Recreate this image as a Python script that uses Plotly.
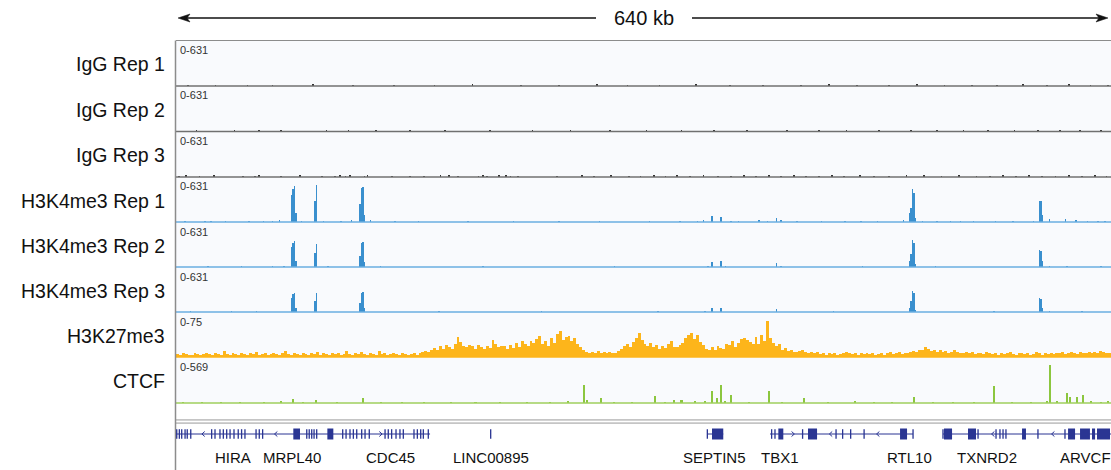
import plotly.graph_objects as go

# ------------------------------------------------------------------ data
REGION_KB = 640
REGION_LABEL = "640 kb"

track_names = ["IgG Rep 1", "IgG Rep 2", "IgG Rep 3",
               "H3K4me3 Rep 1", "H3K4me3 Rep 2", "H3K4me3 Rep 3",
               "H3K27me3", "CTCF"]
track_max = [631, 631, 631, 631, 631, 631, 75, 569]

# IgG (sparse specks, kb / value)
igg1_kb = [8, 27, 49, 66, 94, 121, 149, 177, 203, 236, 262, 288, 309, 331, 356,
           379, 402, 428, 447, 466, 488, 507, 526, 545, 562, 580, 596, 611, 626, 638]
igg1_val = [16, 20, 14, 18, 24, 15, 19, 14, 21, 17, 15, 22, 18, 14, 21,
            17, 15, 19, 24, 17, 14, 21, 15, 19, 17, 22, 15, 21, 17, 19]
igg2_kb = [14, 40, 57, 72, 103, 118, 137, 160, 184, 215, 244, 270, 297, 322, 346,
           368, 391, 418, 440, 459, 481, 503, 521, 539, 556, 574, 590, 605, 619, 633]
igg2_val = [21, 15, 25, 17, 14, 22, 19, 15, 21, 17, 24, 15, 19, 14, 22,
            17, 21, 15, 19, 25, 17, 14, 21, 24, 15, 19, 22, 17, 21, 15]
igg3_kb = [2, 7, 16, 26, 46, 54, 57, 72, 85, 100,
           109, 112, 116, 119, 129, 131, 148, 160, 170, 181,
           187, 193, 207, 210, 213, 221, 226, 229, 234, 261,
           278, 286, 298, 310, 318, 327, 335, 343, 352, 361,
           371, 380, 389, 397, 406, 414, 423, 431, 440, 449,
           457, 468, 478, 488, 500, 512, 524, 536, 548, 557,
           566, 575, 584, 593, 602, 611, 620, 629, 637]
igg3_val = [17, 21, 15, 24, 19, 14, 22, 17, 21, 15,
            19, 24, 17, 21, 15, 22, 14, 19, 17, 21,
            25, 15, 19, 22, 17, 24, 21, 15, 19, 17,
            21, 15, 22, 17, 19, 24, 15, 21, 17, 22,
            19, 15, 24, 17, 21, 14, 22, 19, 15, 21,
            17, 24, 19, 15, 22, 21, 17, 25, 19, 15,
            21, 17, 24, 15, 19, 22, 17, 21, 15]

# H3K4me3 (1 kb bins, kb / value)
k4_rep1_kb = [6, 20, 24, 34, 50, 60, 66, 71, 79, 80,
              81, 82, 86, 95, 96, 101, 113, 120, 126, 127,
              128, 129, 133, 150, 166, 200, 231, 262, 290, 324,
              345, 357, 361, 367, 373, 380, 385, 399, 405, 411,
              414, 425, 442, 458, 469, 480, 498, 502, 503, 504,
              505, 506, 511, 521, 530, 537, 546, 561, 573, 587,
              591, 592, 593, 598, 609, 616, 624, 631, 636]
k4_rep1_val = [15, 12, 10, 14, 18, 20, 12, 25, 380, 460,
               500, 120, 15, 300, 517, 20, 14, 22, 250, 470,
               490, 100, 30, 15, 12, 18, 14, 12, 16, 14,
               18, 15, 28, 85, 70, 18, 14, 25, 16, 63,
               22, 14, 16, 12, 14, 18, 25, 120, 200, 460,
               400, 50, 16, 14, 12, 15, 18, 14, 16, 20,
               300, 300, 100, 48, 40, 25, 15, 14, 16]
k4_rep2_kb = [22, 45, 66, 74, 79, 80, 81, 82, 95, 96,
              104, 126, 127, 128, 129, 140, 210, 300, 364, 367,
              373, 376, 411, 414, 470, 502, 503, 504, 505, 506,
              520, 591, 592, 593, 598, 610, 633]
k4_rep2_val = [10, 14, 12, 15, 280, 340, 365, 80, 200, 320,
               12, 160, 330, 350, 70, 14, 12, 10, 15, 65,
               88, 18, 55, 16, 12, 80, 180, 378, 330, 40,
               14, 240, 230, 80, 20, 12, 14]
k4_rep3_kb = [10, 38, 55, 79, 80, 81, 82, 95, 96, 126,
              127, 128, 129, 180, 250, 330, 362, 367, 373, 411,
              450, 502, 503, 504, 505, 506, 560, 591, 592, 593,
              598, 620]
k4_rep3_val = [12, 10, 14, 200, 250, 265, 60, 160, 265, 120,
               270, 280, 60, 10, 12, 10, 14, 55, 60, 45,
               12, 60, 150, 295, 260, 30, 12, 195, 185, 60,
               18, 10]

# H3K27me3 (2 kb bins from 0 to 640 kb)
K27_BIN_KB = 2
h3k27me3 = [
    5, 4, 6, 5, 3, 4, 6, 5, 4, 5, 7, 5, 4, 6, 5, 4, 10, 5, 4, 6,
    5, 4, 7, 5, 4, 6, 5, 9, 4, 5, 6, 4, 5, 7, 5, 4, 6, 10, 5, 4,
    6, 5, 4, 7, 5, 4, 6, 5, 9, 4, 6, 5, 4, 7, 5, 6, 4, 5, 10, 5,
    4, 6, 5, 9, 5, 4, 6, 5, 4, 10, 5, 6, 4, 5, 7, 5, 4, 6, 5, 4,
    5, 7, 4, 6, 8, 10, 9, 12, 15, 11, 18, 14, 20, 16, 13, 22, 33, 25, 19, 17,
    20, 18, 14, 20, 16, 13, 19, 15, 28, 22, 16, 18, 18, 14, 20, 15, 24, 17, 26, 21,
    18, 27, 23, 30, 35, 22, 26, 19, 31, 24, 38, 44, 29, 33, 35, 26, 31, 22, 17, 12,
    9, 7, 8, 6, 10, 7, 8, 6, 9, 7, 6, 10, 14, 18, 22, 16, 25, 31, 40, 28,
    22, 18, 24, 16, 20, 14, 18, 15, 22, 26, 17, 16, 20, 24, 32, 37, 40, 30, 36, 25,
    20, 14, 11, 16, 12, 18, 15, 14, 22, 20, 26, 17, 24, 30, 32, 28, 25, 22, 33, 21,
    37, 27, 60, 32, 24, 18, 21, 12, 15, 10, 11, 8, 9, 10, 12, 8, 7, 9, 6, 8,
    5, 6, 4, 7, 5, 6, 4, 5, 6, 8, 6, 5, 7, 4, 6, 5, 7, 5, 6, 4,
    5, 7, 4, 6, 8, 5, 6, 9, 5, 7, 6, 8, 10, 9, 12, 11, 16, 13, 10, 12,
    9, 11, 8, 10, 7, 9, 12, 8, 6, 7, 9, 6, 8, 5, 7, 6, 5, 8, 6, 5,
    6, 4, 7, 5, 6, 8, 5, 4, 6, 7, 5, 6, 4, 5, 8, 6, 4, 7, 5, 6,
    5, 7, 6, 8, 5, 6, 9, 7, 5, 8, 6, 7, 9, 6, 8, 7, 10, 8, 6, 7,
]

# CTCF (kb / value)
ctcf_kb = [5, 18, 31, 44, 60, 72, 80, 87, 96, 110,
           128, 140, 155, 170, 188, 205, 222, 240, 256, 268,
           279, 281, 291, 300, 312, 328, 335, 341, 346, 355,
           362, 367, 370, 373, 376, 380, 392, 406, 415, 430,
           446, 465, 478, 490, 505, 518, 532, 546, 560, 572,
           585, 596, 598, 603, 610, 612, 617, 621, 626, 633,
           638]
ctcf_val = [15, 12, 18, 14, 16, 20, 50, 15, 38, 14,
            67, 15, 18, 14, 12, 16, 14, 15, 18, 22,
            219, 40, 63, 18, 14, 88, 16, 38, 38, 20,
            25, 143, 60, 228, 30, 101, 18, 152, 16, 67,
            14, 30, 16, 18, 76, 14, 16, 18, 206, 14,
            18, 30, 472, 25, 123, 76, 80, 101, 20, 18,
            22]

# Gene annotation (kb)
gene_names = ["HIRA", "MRPL40", "CDC45", "LINC00895", "SEPTIN5",
              "TBX1", "RTL10", "TXNRD2", "ARVCF"]
gene_label_kb = [39.0, 79.2, 146.5, 215.4, 368.9, 413.4, 502.4, 555.1, 622.2]
intron_start_kb = [0.0, 363.7, 406.6, 525.0]
intron_end_kb = [173.9, 374.6, 504.5, 640.0]
exon_tick_kb = [0.5, 2.3, 3.9, 6.2, 7.7, 10.1,
                24.4, 26.7, 30.1, 32.4, 34.7, 37.0, 39.7, 42.6, 44.9, 47.2,
                54.8, 57.0, 59.3,
                89.5, 91.2, 92.9, 94.5, 96.3,
                114.1, 116.4, 119.1, 121.4, 123.7, 127.1, 129.4, 132.3,
                143.1, 145.3, 147.6, 150.6, 153.3, 155.6,
                162.9, 165.2, 167.5, 169.3, 172.7,
                215.4, 363.7, 407.7, 410.0, 428.9,
                451.8, 456.3, 461.8, 471.0, 504.5,
                525.0, 549.0, 561.3, 564.0, 566.1, 568.1, 590.0, 608.5]
exon_block_start_kb = [80.3, 103.6, 366.9, 412.3, 432.6, 495.6, 525.7,
                       542.1, 579.1, 610.6, 618.8, 627.0, 630.4]
exon_block_end_kb = [84.9, 107.7, 374.6, 415.7, 438.8, 500.4, 531.2,
                     547.6, 581.8, 615.4, 625.6, 629.1, 639.3]
strand_kb = [18.7, 68.4, 140.1, 422.3, 448.2, 480.5, 559.2, 600.3]
strand_dir = [-1, -1, 1, 1, -1, -1, -1, -1]

# ------------------------------------------------------------------ layout helpers
FONT = "Liberation Sans, Arial, Helvetica, sans-serif"
W, H = 1111, 470
ML, MT = 176, 40
PW, PH = W - ML, H - MT
KB_PER_PX = REGION_KB / PW


def fx(p):
    return (p - ML) / PW


def fy(p):
    return (H - p) / PH


base_px = [86, 131.5, 177, 222, 267, 312, 357, 403]
top_px = [40.5] + base_px[:-1]

k27_x = [K27_BIN_KB * (i + 0.5) for i in range(len(h3k27me3))]
series = [
    (igg1_kb, igg1_val, 1.2),
    (igg2_kb, igg2_val, 1.2),
    (igg3_kb, igg3_val, 1.2),
    (k4_rep1_kb, k4_rep1_val, 1.0),
    (k4_rep2_kb, k4_rep2_val, 1.0),
    (k4_rep3_kb, k4_rep3_val, 1.0),
    (k27_x, h3k27me3, K27_BIN_KB),
    (ctcf_kb, ctcf_val, 1.4),
]
bar_colors = ["#333333"] * 3 + ["#3a8fce"] * 3 + ["#fdb51b", "#8cc63f"]
base_colors = ["#707070"] * 3 + ["#6aaee0"] * 3 + ["#fdb51b", "#9fcf5c"]
GENE_COLOR = "#2a3593"
BORDER = "#8c8c8c"

fig = go.Figure()
layout_axes = {}
shapes = []
annotations = []

for i, (xs, ys, w) in enumerate(series):
    k = i + 1
    yname = "y" if k == 1 else f"y{k}"
    fig.add_trace(go.Bar(
        x=xs, y=ys, width=w, xaxis="x", yaxis=yname,
        marker=dict(color=bar_colors[i], line=dict(width=0)),
        hoverinfo="skip", showlegend=False))
    layout_axes["yaxis" if k == 1 else f"yaxis{k}"] = dict(
        domain=[fy(base_px[i]), fy(top_px[i])], range=[0, track_max[i]],
        visible=False, fixedrange=True, anchor="x")
    # baseline
    shapes.append(dict(type="line", xref="paper", yref="paper",
                       x0=0, x1=1, y0=fy(base_px[i]), y1=fy(base_px[i]),
                       line=dict(color=base_colors[i], width=1.3 if i < 6 else 1.7),
                       layer="above"))
    # scale label
    annotations.append(dict(text=f"0-{track_max[i]}", xref="paper", yref="paper",
                            x=fx(177.5), y=fy(top_px[i] + 1.5), xanchor="left",
                            yanchor="top", showarrow=False,
                            font=dict(family=FONT, size=11, color="#333333")))
    # track name
    annotations.append(dict(text=track_names[i], xref="paper", yref="paper",
                            x=fx(166.5), y=fy((base_px[i] + top_px[i]) / 2 + 1),
                            xanchor="right", yanchor="middle", showarrow=False,
                            font=dict(family=FONT, size=19.5, color="#111111")))

# panel borders
shapes += [
    dict(type="line", xref="paper", yref="paper", x0=0, x1=1, y0=fy(40.5), y1=fy(40.5),
         line=dict(color=BORDER, width=1.2)),
    dict(type="line", xref="paper", yref="paper", x0=0, x1=1, y0=fy(420), y1=fy(420),
         line=dict(color=BORDER, width=1.2)),
    dict(type="line", xref="paper", yref="paper", x0=0, x1=1, y0=fy(423), y1=fy(423),
         line=dict(color=BORDER, width=1.2)),
    dict(type="rect", xref="paper", yref="paper", x0=0, x1=1, y0=fy(422.3), y1=fy(420.7),
         fillcolor="white", line=dict(width=0)),
    dict(type="line", xref="paper", yref="paper", x0=fx(175.5), x1=fx(175.5),
         y0=fy(40.5), y1=0, line=dict(color=BORDER, width=1.5)),
]

# gene track
for s, e in zip(intron_start_kb, intron_end_kb):
    shapes.append(dict(type="line", xref="x", yref="paper", x0=s, x1=e,
                       y0=fy(434), y1=fy(434), line=dict(color=GENE_COLOR, width=1)))
for t in exon_tick_kb:
    shapes.append(dict(type="rect", xref="x", yref="paper", x0=t - 0.45, x1=t + 0.45,
                       y0=fy(438.8), y1=fy(429.2), fillcolor=GENE_COLOR,
                       line=dict(width=0)))
for s, e in zip(exon_block_start_kb, exon_block_end_kb):
    shapes.append(dict(type="rect", xref="x", yref="paper", x0=s, x1=e,
                       y0=fy(439.5), y1=fy(428.5), fillcolor=GENE_COLOR,
                       line=dict(width=0)))
for kb, d in zip(strand_kb, strand_dir):
    tip = kb + d * 1.4 * KB_PER_PX
    back = kb - d * 1.4 * KB_PER_PX
    shapes.append(dict(type="path", xref="x", yref="paper",
                       path=f"M {back} {fy(431.5)} L {tip} {fy(434)} L {back} {fy(436.5)}",
                       line=dict(color=GENE_COLOR, width=1)))
for name, kb in zip(gene_names, gene_label_kb):
    annotations.append(dict(text=name, xref="x", yref="paper", x=kb, y=fy(457.5),
                            xanchor="center", yanchor="middle", showarrow=False,
                            font=dict(family=FONT, size=15, color="#111111")))

# region-size ruler
RY = fy(18)
shapes += [
    dict(type="line", xref="paper", yref="paper", x0=fx(184), x1=fx(596), y0=RY, y1=RY,
         line=dict(color="#111111", width=1.3)),
    dict(type="line", xref="paper", yref="paper", x0=fx(692), x1=fx(1102), y0=RY, y1=RY,
         line=dict(color="#111111", width=1.3)),
    dict(type="path", xref="paper", yref="paper", fillcolor="#111111",
         line=dict(color="#111111", width=0.5),
         path=f"M {fx(178)} {RY} L {fx(190)} {fy(14)} L {fx(187)} {RY} "
              f"L {fx(190)} {fy(22)} Z"),
    dict(type="path", xref="paper", yref="paper", fillcolor="#111111",
         line=dict(color="#111111", width=0.5),
         path=f"M {fx(1108)} {RY} L {fx(1096)} {fy(14)} L {fx(1099)} {RY} "
              f"L {fx(1096)} {fy(22)} Z"),
]
annotations.append(dict(text=REGION_LABEL, xref="paper", yref="paper", x=fx(644), y=RY,
                        xanchor="center", yanchor="middle", showarrow=False,
                        font=dict(family=FONT, size=20, color="#111111")))

fig.update_layout(
    width=W, height=H,
    margin=dict(l=ML, r=0, t=MT, b=0, pad=0),
    paper_bgcolor="white", plot_bgcolor="#f9fafd",
    barmode="overlay", bargap=0,
    xaxis=dict(domain=[0, 1], range=[0, REGION_KB], visible=False, fixedrange=True),
    shapes=shapes, annotations=annotations, showlegend=False,
    **layout_axes,
)

fig.write_html(
    "out.html",
    config={"displayModeBar": False, "staticPlot": True},
    post_script="document.body.style.margin='0px';document.body.style.overflow='hidden';",
)
